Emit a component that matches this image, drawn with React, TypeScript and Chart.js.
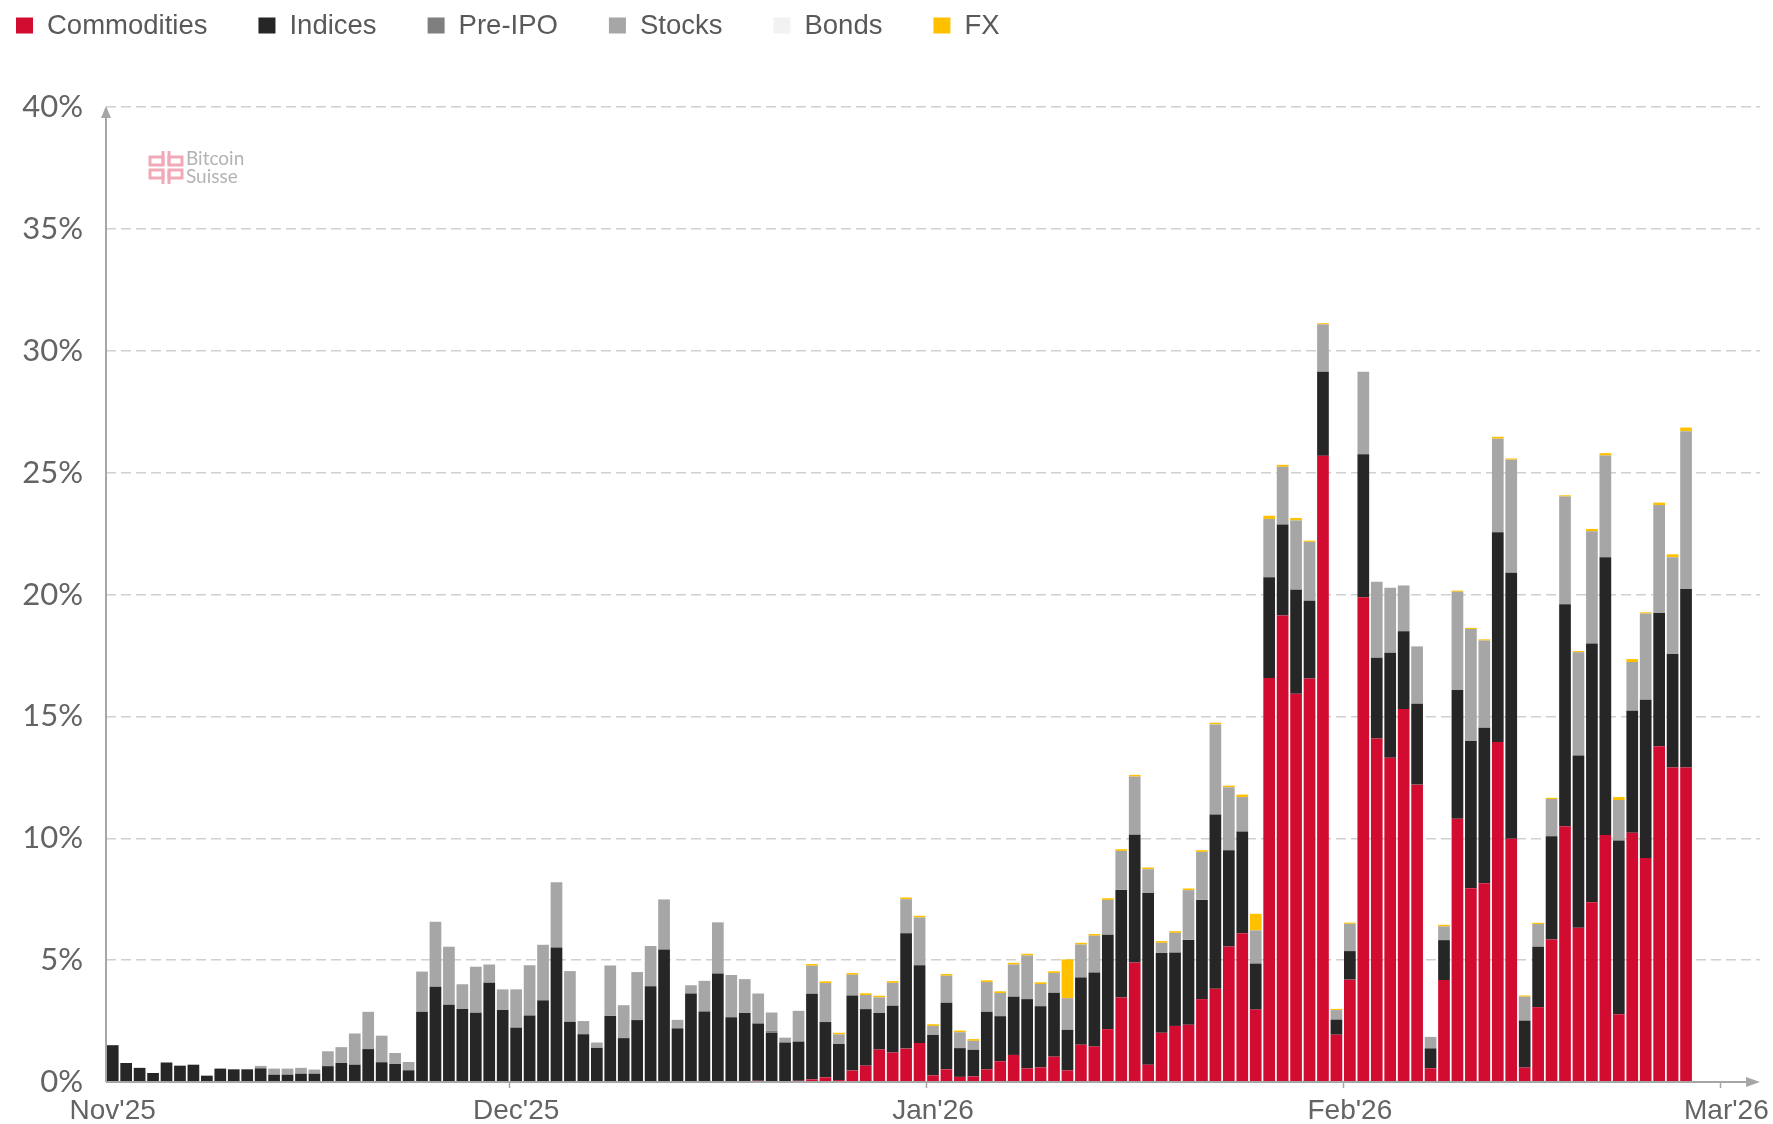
import { useEffect, useRef } from 'react';
import { Chart, registerables } from 'chart.js';

Chart.register(...registerables);

const MONTHS = ["Nov'25", "Dec'25", "Jan'26", "Feb'26", "Mar'26"];
const MONTH_DAYS = [30, 31, 31, 28, 3];

const SERIES_NAMES = ['Commodities', 'Indices', 'Pre-IPO', 'Stocks', 'Bonds', 'FX'];
const SERIES_COLORS = ['#d20b30', '#262626', '#7f7f7f', '#a6a6a6', '#f2f2f2', '#ffc000'];

const commodities = [
  0, 0, 0, 0, 0, 0, 0, 0, 0, 0,
  0, 0, 0, 0, 0, 0, 0, 0, 0, 0,
  0, 0, 0, 0, 0, 0, 0, 0, 0, 0,
  0, 0, 0, 0, 0, 0, 0, 0, 0, 0,
  0, 0, 0, 0, 0, 0, 0, 0.03, 0.05, 0,
  0, 0.05, 0.11, 0.19, 0.08, 0.47, 0.67, 1.33, 1.21, 1.37,
  1.60, 0.27, 0.52, 0.21, 0.23, 0.52, 0.85, 1.11, 0.56, 0.60,
  1.04, 0.48, 1.53, 1.46, 2.17, 3.47, 4.90, 0.71, 2.02, 2.30,
  2.35, 3.40, 3.83, 5.56, 6.10, 2.97, 16.57, 19.14, 15.93, 16.55,
  25.69, 1.94, 4.20, 19.89, 14.09, 13.30, 15.30, 12.20, 0.56, 4.18,
  10.80, 7.95, 8.15, 13.95, 9.98, 0.59, 3.07, 5.85, 10.49, 6.33,
  7.37, 10.13, 2.78, 10.23, 9.19, 13.77, 12.90, 12.90,
];

const indices = [
  1.51, 0.78, 0.58, 0.37, 0.80, 0.67, 0.71, 0.26, 0.55, 0.52,
  0.52, 0.56, 0.30, 0.30, 0.34, 0.34, 0.65, 0.78, 0.71, 1.35,
  0.81, 0.74, 0.48, 2.88, 3.91, 3.17, 2.99, 2.84, 4.07, 2.95,
  2.23, 2.73, 3.35, 5.52, 2.47, 1.96, 1.40, 2.71, 1.80, 2.54,
  3.93, 5.44, 2.20, 3.63, 2.89, 4.45, 2.66, 2.80, 2.35, 2.02,
  1.62, 1.61, 3.51, 2.27, 1.48, 3.08, 2.32, 1.50, 1.92, 4.73,
  3.19, 1.66, 2.73, 1.18, 1.09, 2.36, 1.85, 2.39, 2.84, 2.51,
  2.62, 1.66, 2.76, 3.03, 3.87, 4.41, 5.24, 7.04, 3.27, 3.01,
  3.48, 4.07, 7.14, 3.95, 4.18, 1.89, 4.14, 3.73, 4.26, 3.19,
  3.45, 0.62, 1.17, 5.86, 3.32, 4.31, 3.19, 3.32, 0.82, 1.64,
  5.28, 6.04, 6.38, 8.60, 10.91, 1.93, 2.48, 4.23, 9.11, 7.06,
  10.62, 11.40, 7.13, 5.00, 6.49, 5.47, 4.66, 7.33,
];

const preIpo = [
  0, 0, 0, 0, 0, 0, 0, 0, 0, 0,
  0, 0, 0, 0, 0, 0, 0, 0, 0, 0,
  0, 0, 0, 0, 0, 0, 0, 0, 0, 0,
  0, 0, 0, 0, 0, 0, 0, 0, 0, 0,
  0, 0, 0, 0, 0, 0, 0, 0, 0, 0.08,
  0, 0, 0, 0, 0, 0, 0, 0, 0, 0,
  0, 0, 0, 0, 0, 0, 0, 0, 0, 0,
  0, 0, 0, 0, 0, 0, 0, 0, 0, 0,
  0, 0, 0, 0, 0, 0, 0, 0, 0, 0,
  0, 0, 0, 0, 0, 0, 0, 0, 0, 0,
  0, 0, 0, 0, 0, 0, 0, 0, 0, 0,
  0, 0, 0, 0, 0, 0, 0, 0,
];

const stocks = [
  0, 0, 0, 0, 0, 0, 0, 0, 0, 0,
  0, 0.10, 0.25, 0.25, 0.24, 0.17, 0.61, 0.65, 1.28, 1.53,
  1.09, 0.45, 0.34, 1.65, 2.66, 2.38, 1.02, 1.89, 0.75, 0.85,
  1.57, 2.06, 2.28, 2.68, 2.08, 0.54, 0.22, 2.07, 1.35, 1.97,
  1.65, 2.05, 0.35, 0.34, 1.26, 2.10, 1.73, 1.39, 1.23, 0.75,
  0.20, 1.26, 1.15, 1.60, 0.39, 0.85, 0.58, 0.64, 0.94, 1.40,
  1.96, 0.37, 1.11, 0.65, 0.37, 1.22, 0.95, 1.32, 1.79, 0.91,
  0.81, 1.30, 1.35, 1.51, 1.43, 1.60, 2.39, 0.98, 0.42, 0.81,
  2.04, 1.97, 3.70, 2.58, 1.41, 1.36, 2.39, 2.37, 2.85, 2.42,
  1.94, 0.39, 1.12, 3.39, 3.11, 2.67, 1.88, 2.35, 0.47, 0.56,
  4.03, 4.59, 3.58, 3.84, 4.64, 0.98, 0.93, 1.53, 4.42, 4.24,
  4.60, 4.17, 1.66, 2.00, 3.54, 4.43, 3.97, 6.47,
];

const bonds = [
  0, 0, 0, 0, 0, 0, 0, 0, 0, 0,
  0, 0, 0, 0, 0, 0, 0, 0, 0, 0,
  0, 0, 0, 0, 0, 0, 0, 0, 0, 0,
  0, 0, 0, 0, 0, 0, 0, 0, 0, 0,
  0, 0, 0, 0, 0, 0, 0, 0, 0, 0,
  0, 0, 0, 0, 0, 0, 0, 0, 0, 0,
  0, 0, 0, 0, 0, 0, 0, 0, 0, 0,
  0, 0, 0, 0, 0, 0, 0, 0, 0, 0,
  0, 0, 0, 0, 0, 0, 0, 0, 0, 0,
  0, 0, 0, 0, 0, 0, 0, 0, 0, 0,
  0, 0, 0, 0, 0, 0, 0, 0, 0, 0,
  0, 0, 0, 0, 0, 0, 0, 0,
];

const fx = [
  0, 0, 0, 0, 0, 0, 0, 0, 0, 0,
  0, 0, 0, 0, 0, 0, 0, 0, 0, 0,
  0, 0, 0, 0, 0, 0, 0, 0, 0, 0,
  0, 0, 0, 0, 0, 0, 0, 0, 0, 0,
  0, 0, 0, 0, 0, 0, 0, 0, 0, 0,
  0, 0, 0.07, 0.07, 0.07, 0.07, 0.07, 0.07, 0.07, 0.07,
  0.07, 0.07, 0.07, 0.07, 0.07, 0.07, 0.07, 0.07, 0.07, 0.07,
  0.07, 1.59, 0.07, 0.07, 0.07, 0.07, 0.07, 0.07, 0.07, 0.07,
  0.07, 0.07, 0.07, 0.07, 0.10, 0.68, 0.13, 0.08, 0.10, 0.05,
  0.05, 0.05, 0.05, 0, 0, 0, 0, 0, 0, 0.07,
  0.05, 0.05, 0.05, 0.08, 0.05, 0.05, 0.05, 0.05, 0.05, 0.05,
  0.10, 0.10, 0.12, 0.12, 0.05, 0.10, 0.12, 0.15,
];

const Y_TICKS = [0, 5, 10, 15, 20, 25, 30, 35, 40];

const SERIES_DATA = [commodities, indices, preIpo, stocks, bonds, fx];

// categories: one per day, "Nov'25 1" ... "Mar'26 3"
const categories: string[] = [];
MONTHS.forEach((m, mi) => {
  for (let d = 1; d <= MONTH_DAYS[mi]; d++) categories.push(m + ' ' + d);
});

const TEXT_COLOR = '#595959';
const TICK_COLOR = '#646464';
const AXIS_COLOR = '#a6a6a6';

const decorPlugin = {
  id: 'decor',
  beforeDatasetsDraw(chart: any) {
    const { ctx } = chart;
    ctx.save();
    ctx.strokeStyle = '#f1a9b8';
    ctx.lineWidth = 3;
    const lx = 150, ly = 151;
    ctx.strokeRect(lx, ly + 6, 13, 8);
    ctx.beginPath(); ctx.moveTo(lx + 13, ly); ctx.lineTo(lx + 13, ly + 14); ctx.stroke();
    ctx.strokeRect(lx + 19, ly + 6, 13, 8);
    ctx.beginPath(); ctx.moveTo(lx + 19, ly); ctx.lineTo(lx + 19, ly + 14); ctx.stroke();
    ctx.strokeRect(lx, ly + 19, 13, 8);
    ctx.beginPath(); ctx.moveTo(lx + 13, ly + 19); ctx.lineTo(lx + 13, ly + 33); ctx.stroke();
    ctx.strokeRect(lx + 19, ly + 19, 13, 8);
    ctx.beginPath(); ctx.moveTo(lx + 19, ly + 19); ctx.lineTo(lx + 19, ly + 33); ctx.stroke();
    ctx.fillStyle = '#b3b3b3';
    ctx.font = '19px Lato, "Liberation Sans", sans-serif';
    ctx.textBaseline = 'middle';
    ctx.textAlign = 'left';
    ctx.fillText('Bitcoin', 186, 159);
    ctx.fillText('Suisse', 186, 177);
    ctx.restore();
  },
  afterDatasetsDraw(chart: any) {
    const { ctx, chartArea: a, scales } = chart;
    const x = scales.x;
    const y = scales.y;
    const y0 = y.getPixelForValue(0);
    ctx.save();
    ctx.strokeStyle = AXIS_COLOR;
    ctx.fillStyle = AXIS_COLOR;
    ctx.lineWidth = 2;
    ctx.beginPath();
    ctx.moveTo(a.left, y0);
    ctx.lineTo(a.right - 10, y0);
    ctx.stroke();
    ctx.beginPath();
    ctx.moveTo(a.right, y0);
    ctx.lineTo(a.right - 14, y0 - 5);
    ctx.lineTo(a.right - 14, y0 + 5);
    ctx.closePath();
    ctx.fill();
    ctx.beginPath();
    ctx.moveTo(a.left, y0);
    ctx.lineTo(a.left, a.top + 8);
    ctx.stroke();
    ctx.beginPath();
    ctx.moveTo(a.left, a.top - 1);
    ctx.lineTo(a.left - 5, a.top + 11);
    ctx.lineTo(a.left + 5, a.top + 11);
    ctx.closePath();
    ctx.fill();
    const half = (x.getPixelForValue(1) - x.getPixelForValue(0)) / 2;
    ctx.lineWidth = 1.5;
    categories.forEach((c, i) => {
      if (i > 0 && c.split(' ')[1] === '1') {
        const px = Math.round(x.getPixelForValue(i) - half) + 0.5;
        ctx.beginPath();
        ctx.moveTo(px, y0);
        ctx.lineTo(px, y0 + 6);
        ctx.stroke();
      }
    });
    ctx.restore();
  },
  afterDraw(chart: any) {
    const { ctx } = chart;
    ctx.save();
    ctx.font = '27.5px "Liberation Sans", Arial, sans-serif';
    ctx.textBaseline = 'middle';
    ctx.textAlign = 'left';
    let cx = 16;
    const cy = 25.5;
    SERIES_NAMES.forEach((name, i) => {
      ctx.fillStyle = SERIES_COLORS[i];
      ctx.fillRect(cx, cy - 8, 17, 16);
      cx += 17 + 14;
      ctx.fillStyle = TEXT_COLOR;
      ctx.fillText(name, cx, cy + 1);
      cx += ctx.measureText(name).width + 51;
    });
    ctx.restore();
  },
};

export default function App() {
  const ref = useRef<HTMLCanvasElement | null>(null);

  useEffect(() => {
    if (!ref.current) return;
    const chart = new Chart(ref.current, {
      type: 'bar',
      data: {
        labels: categories,
        datasets: SERIES_NAMES.map((name, i) => ({
          label: name,
          data: SERIES_DATA[i],
          backgroundColor: SERIES_COLORS[i],
          borderWidth: 0,
          barPercentage: 0.87,
          categoryPercentage: 1.0,
        })),
      },
      options: {
        responsive: false,
        animation: false,
        layout: { padding: { left: 0, right: 13, top: 107, bottom: 0 } },
        plugins: {
          legend: { display: false },
          tooltip: { enabled: false },
        },
        scales: {
          x: {
            type: 'category',
            stacked: true,
            offset: true,
            grid: { display: false, drawTicks: false },
            border: { display: false },
            ticks: {
              autoSkip: false,
              maxRotation: 0,
              minRotation: 0,
              padding: 12,
              color: TICK_COLOR,
              font: { family: '"Liberation Sans", Arial, sans-serif', size: 28 },
              callback: function (this: any, v: any) {
                const l: string = this.getLabelForValue(v);
                const parts = l.split(' ');
                return parts[1] === '1' ? parts[0] : '';
              },
            },
            afterFit: (s: any) => { s.height = 42; },
          },
          y: {
            stacked: true,
            min: Y_TICKS[0],
            max: Y_TICKS[Y_TICKS.length - 1],
            afterBuildTicks: (s: any) => { s.ticks = Y_TICKS.map((v) => ({ value: v })); },
            ticks: {
              padding: 23,
              color: TICK_COLOR,
              font: { family: 'Lato, "Open Sans", sans-serif', size: 31, weight: 400 as any },
              callback: (v: any) => v + '%',
            },
            grid: {
              drawTicks: false,
              lineWidth: 1.5,
              color: (c: any) => (c.tick && c.tick.value === 0 ? 'rgba(0,0,0,0)' : '#d0d0d0'),
            },
            border: { display: false, dash: [10, 5] },
            afterFit: (s: any) => { s.width = 106; },
          },
        },
      },
      plugins: [decorPlugin],
    });
    return () => chart.destroy();
  }, []);

  return (
    <div style={{ position: 'fixed', left: 0, top: 0, width: 1773, height: 1124, background: '#fff' }}>
      <canvas ref={ref} width={1773} height={1124} style={{ display: 'block' }} />
    </div>
  );
}
